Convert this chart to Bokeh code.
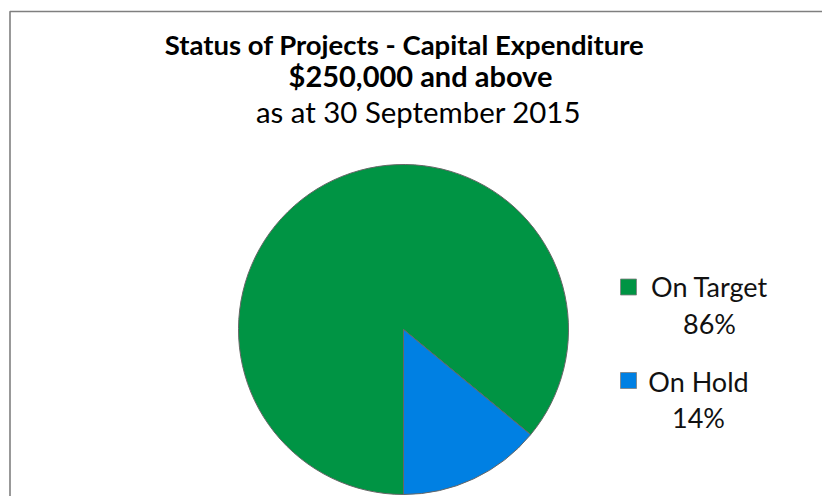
import math
from bokeh.plotting import figure
from bokeh.models import Range1d, ColumnDataSource
from bokeh.core.properties import value
from bokeh.embed import file_html
from bokeh.resources import INLINE

# ---- data ----
categories = ["On Target", "On Hold"]
percents = [86, 14]
colors = ["#009444", "#0080E3"]
title_lines = ["Status of Projects - Capital Expenditure",
               "$250,000 and above",
               "as at 30 September 2015"]

FONT = "Lato"
W, H = 822, 496
TS = 9  # text baseline correction

p = figure(width=W, height=H, output_backend="svg", toolbar_location=None,
           x_range=Range1d(0, W), y_range=Range1d(0, H),
           min_border=0)
p.axis.visible = False
p.grid.visible = False
p.outline_line_color = None
p.background_fill_color = "white"
p.border_fill_color = "white"

def Y(img_y):
    return H - img_y

# chart border (left and top edges visible)
p.line(x=[9.5, 9.5, 830], y=[Y(504), Y(11), Y(11)], line_color="#7f7f7f", line_width=1.6)

# pie
cx, cy, r = 403, Y(329), 165
total = sum(percents)
start = -90.0
starts, ends = [], []
for v in percents:
    sweep = v / total * 360.0
    starts.append(math.radians(start))
    ends.append(math.radians(start - sweep))
    start -= sweep
src = ColumnDataSource(dict(start=starts, end=ends, color=colors, cat=categories))
p.wedge(x=cx, y=cy, radius=r, radius_units="screen", start_angle="start", end_angle="end",
        direction="clock", fill_color="color", line_color="#666666", line_width=1, source=src)

# titles
p.text(x=[404], y=[Y(53 - TS)], text=[title_lines[0]], text_font=value(FONT), text_font_style="bold",
       text_font_size="27.5px", text_align="center", text_baseline="alphabetic", text_color="#000000")
p.text(x=[420], y=[Y(84 - TS)], text=[title_lines[1]], text_font=value(FONT), text_font_style="bold",
       text_font_size="29px", text_align="center", text_baseline="alphabetic", text_color="#000000")
p.text(x=[418], y=[Y(120 - TS)], text=[title_lines[2]], text_font=value(FONT), text_font_style="normal",
       text_font_size="29.4px", text_align="center", text_baseline="alphabetic", text_color="#000000")

# legend
sq_y = [Y(286.5), Y(380)]
p.rect(x=[628, 628], y=sq_y, width=16, height=16, width_units="screen", height_units="screen",
       fill_color=colors, line_color="#7f7f7f", line_width=0.8)
name_base = [Y(295 - TS), Y(390 - TS)]
pct_base = [Y(332 - TS), Y(426 - TS)]
centers = [709, 698]
p.text(x=centers, y=name_base, text=categories, text_font=value(FONT), text_font_size="27px",
       text_align="center", text_baseline="alphabetic", text_color="#111111")
p.text(x=centers, y=pct_base, text=[f"{v}%" for v in percents], text_font=value(FONT),
       text_font_size="27px", text_align="center", text_baseline="alphabetic", text_color="#111111")

open("out.html", "w").write(file_html(p, INLINE))
